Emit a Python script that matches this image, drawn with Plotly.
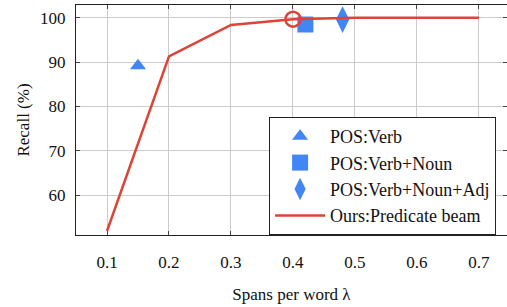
import plotly.graph_objects as go

beam_x = [0.1, 0.2, 0.3, 0.4, 0.5, 0.6, 0.7]
beam_y = [51.9, 91.3, 98.4, 99.7, 100.0, 100.0, 100.0]
highlight_x = [0.4]
highlight_y = [99.7]
verb_x, verb_y = [0.15], [89.2]
vn_x, vn_y = [0.42], [98.5]
vna_x, vna_y = [0.48], [99.6]
x_ticks = [0.1, 0.2, 0.3, 0.4, 0.5, 0.6, 0.7]
y_ticks = [60, 70, 80, 90, 100]

BLUE = "#4285F4"
RED = "#DB4437"
FONT = "Liberation Serif"
TXT = "#111111"

fig = go.Figure()
fig.add_trace(go.Scatter(x=verb_x, y=verb_y, mode="markers", name="POS:Verb",
                         marker=dict(symbol="triangle-up", size=14, color=BLUE)))
fig.add_trace(go.Scatter(x=vn_x, y=vn_y, mode="markers", name="POS:Verb+Noun",
                         marker=dict(symbol="square", size=16, color=BLUE)))
fig.add_trace(go.Scatter(x=vna_x, y=vna_y, mode="markers", name="POS:Verb+Noun+Adj",
                         marker=dict(symbol="diamond-tall", size=19, color=BLUE)))
fig.add_trace(go.Scatter(x=beam_x, y=beam_y, mode="lines", name="Ours:Predicate beam",
                         line=dict(color=RED, width=2.5)))
fig.add_trace(go.Scatter(x=highlight_x, y=highlight_y, mode="markers", showlegend=False,
                         marker=dict(symbol="circle-open", size=15, color=RED,
                                     line=dict(width=2.5, color=RED))))

axis_common = dict(showgrid=True, gridcolor="#cccccc", gridwidth=1,
                   showline=True, linecolor="#222222", linewidth=1, mirror="ticks",
                   ticks="inside", ticklen=4, tickcolor="#444444", automargin=False,
                   zeroline=False, tickfont=dict(family=FONT, size=17, color=TXT))

fig.update_xaxes(range=[0.05, 0.7452], tickvals=x_ticks, ticktext=[f"{v:.1f}" for v in x_ticks],
                 ticklabelstandoff=12,
                 title=dict(text="Spans per word λ", font=dict(family=FONT, size=17, color=TXT),
                            standoff=16),
                 **axis_common)
fig.update_yaxes(range=[51, 102.9], tickvals=y_ticks, ticklabelstandoff=6,
                 title=dict(text="Recall (%)", font=dict(family=FONT, size=17, color=TXT),
                            standoff=6),
                 **axis_common)

fig.update_layout(
    width=507, height=307,
    margin=dict(l=76, r=0, t=5, b=72),
    plot_bgcolor="white", paper_bgcolor="white",
    font=dict(family=FONT, size=17, color=TXT),
    legend=dict(x=0.448, y=0, xanchor="left", yanchor="bottom",
                bgcolor="white", bordercolor="#222222", borderwidth=1,
                font=dict(family=FONT, size=18, color=TXT),
                tracegroupgap=0, itemwidth=50),
)

fig.write_html("out.html", config={"displayModeBar": False},
               post_script="document.body.style.margin='0';")
